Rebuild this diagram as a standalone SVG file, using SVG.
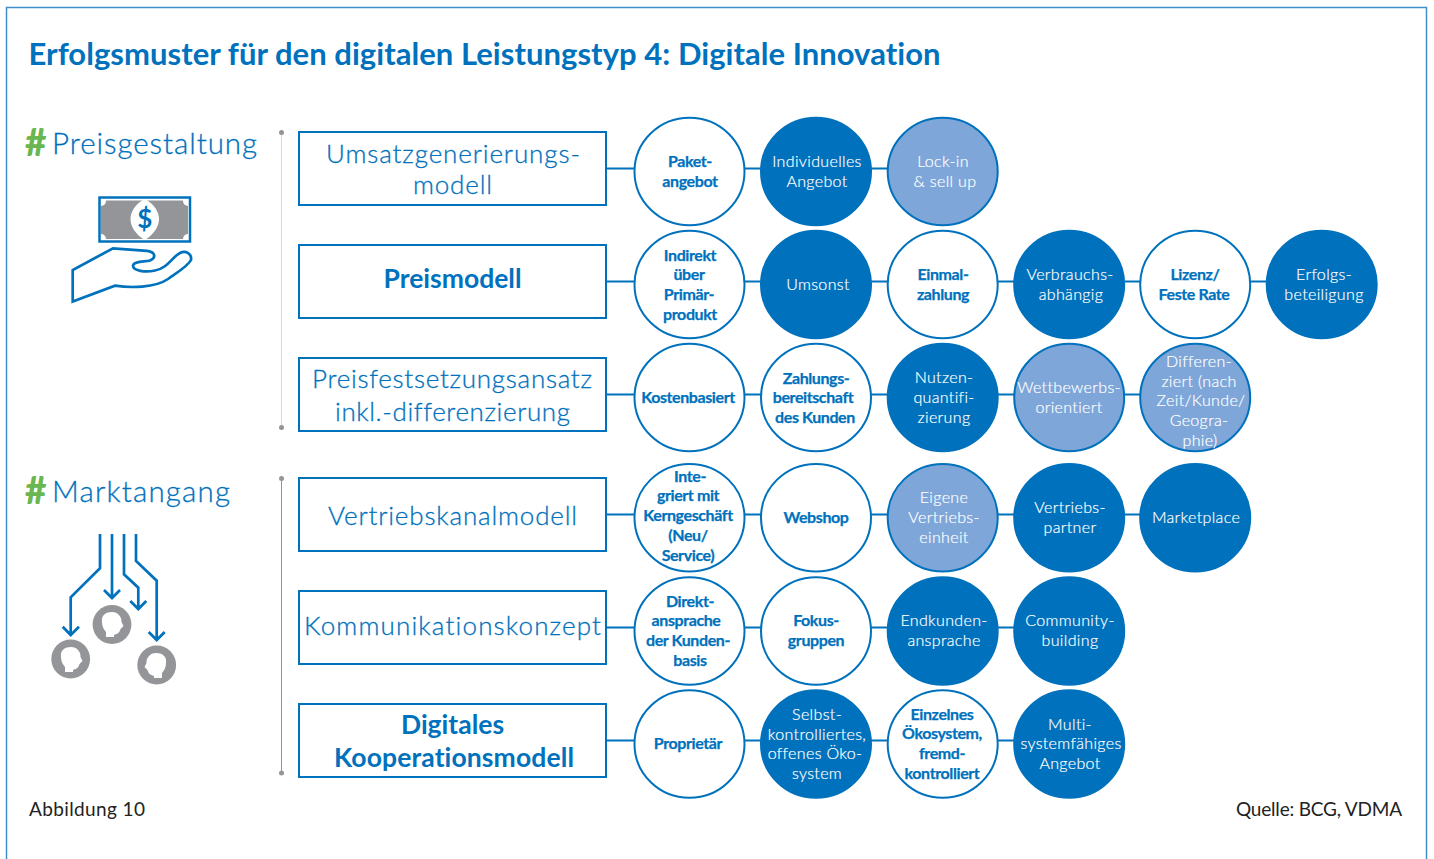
<svg xmlns="http://www.w3.org/2000/svg" width="1434" height="859" viewBox="0 0 1434 859">
<style>
text{font-family:"Lato","Liberation Sans",sans-serif;text-anchor:middle;font-variant-ligatures:none}
ellipse.c{stroke:#0071bc;stroke-width:2;rx:55px;ry:53.800px}
.w{fill:#fff}.d{fill:#0071bc}.l{fill:#7ea6d9}
.tb{fill:#0071bc;font-weight:700;font-size:16px;letter-spacing:-.4px;stroke:#0071bc;stroke-width:.25px}
.tw{fill:#fff;font-size:16px;letter-spacing:.35px;font-weight:300;stroke:#fff;stroke-width:.2px}
.r{fill:#fff;stroke:#0071bc;stroke-width:2}
.rt{fill:#0071bc;font-size:26px;font-weight:300;stroke:#0071bc;stroke-width:.3px}
.rb{fill:#0071bc;font-size:26.500px;font-weight:700}
.h{fill:#0071bc;font-size:29.500px;text-anchor:start;font-weight:300;stroke:#0071bc;stroke-width:.3px}
.hash{fill:#6ab651;font-size:37px;font-weight:900;text-anchor:start}
.ln{stroke:#0071bc;stroke-width:2;fill:none}
.ic{stroke:#0071bc;stroke-width:2.700;fill:none}
.g{fill:#939598}
.f{fill:#222;font-size:19px}
</style>
<rect x="0" y="0" width="1434" height="859" fill="#fff"/>
<path d="M6.500 859V7.500H1426.500V859" fill="none" stroke="#3f8fcd" stroke-width="1.500"/>
<text x="28.500" y="65" textLength="912" style="text-anchor:start;font-size:31px;font-weight:700;fill:#0071bc">Erfolgsmuster für den digitalen Leistungstyp 4: Digitale Innovation</text>

<g id="preisgestaltung">
<text class="hash" x="25" y="156">#</text><text class="h" x="52" y="154" textLength="205">Preisgestaltung</text>
<rect x="101" y="200.500" width="87" height="38.500" class="g"/>
<path d="M144.700 199C135 204 130.500 212 130.500 219C130.500 226 135 234 144.700 240C154.400 234 159 226 159 219C159 212 154.400 204 144.700 199Z" fill="#fff"/>
<g fill="#fff"><circle cx="101" cy="201" r="5"/><circle cx="188" cy="201" r="5"/><circle cx="101" cy="239" r="5"/><circle cx="188" cy="239" r="5"/></g>
<rect x="99.500" y="197.500" width="90.500" height="44" fill="none" stroke="#0071bc" stroke-width="2.500"/>
<text x="144.700" y="228" style="font-size:26px;font-weight:700;fill:#0071bc">$</text>
<path class="ic" d="M72.700 270V301.500L115 285.700C130 288 155 288 168 279C178 272 188 266 191 260C192 254 186 250 180 253C172 257 168 268 155 270.500C145 272.500 133 271 133 265.500C134 261 144 262 150 260.500C156 258 156 252 147 250.800L113 248.300Z"/>
</g>

<g id="marktangang">
<text class="hash" x="25" y="504">#</text><text class="h" x="52" y="502" textLength="178">Marktangang</text>
<g class="ic">
<path d="M100 534V568.300L70.700 597.300V635M62.700 626.700L70.700 635L79 626.700"/>
<path d="M112 534V598M104 590L112 598L120 590"/>
<path d="M124 534V574.300L138.300 587.700V609M130.300 601L138.300 609L146.300 601"/>
<path d="M136 534V561L156.700 580.700V640M148.700 632L156.700 640L164.700 632"/>
</g>
<circle cx="70.700" cy="659" r="19.400" class="g"/><circle cx="112" cy="624.500" r="19.400" class="g"/><circle cx="156.700" cy="665" r="19.400" class="g"/>
<g fill="#fff">
<path d="M61 657C60 650 65 647 71 647C77 647 81 652 80.500 657L82.500 661L79.500 664C78.500 668 76 669 73 670V672H65V667C62.500 664 61 661 61 657Z"/>
<path d="M102 622C101 615 106 612 112 612C118 612 122 617 121.500 622L123.500 626L120.500 629C119.500 633 117 634 114 635V637H106V632C103.500 629 102 626 102 622Z"/>
<path d="M166 663C167 656 162 653 156 653C150 653 146 658 146.500 663L144.500 667L147.500 670C148.500 674 151 675 154 676V678H162V673C164.500 670 166 667 166 663Z"/>
</g>
</g>

<g id="axes" fill="#939598">
<line x1="281.500" y1="133" x2="281.500" y2="427" stroke="#d9d9d9" stroke-width="1"/>
<circle cx="281.500" cy="132.500" r="2.500"/><circle cx="281.500" cy="427.500" r="2.500"/>
<line x1="281.500" y1="479" x2="281.500" y2="773" stroke="#939598" stroke-width="1"/>
<circle cx="281.500" cy="478.500" r="2.500"/><circle cx="281.500" cy="773" r="2.500"/>
</g>

<g id="connectors" class="ln">
<path d="M606 168.500H945"/>
<path d="M606 281.500H1325"/>
<path d="M606 394.500H1197"/>
<path d="M606 514.500H1197"/>
<path d="M606 627.500H1071"/>
<path d="M606 740.500H1071"/>
</g>

<g id="row1">
<g><rect class="r" x="299" y="132" width="307" height="73"/><text class="rt" x="453" y="163" textLength="254">Umsatzgenerierungs-</text><text class="rt" x="452.500" y="194" textLength="79">modell</text></g>
<g id="r1c1"><ellipse class="c w" cx="689.500" cy="171.500"/><text class="tb" x="690" y="167">Paket-</text><text class="tb" x="690" y="187">angebot</text></g>
<g id="r1c2"><ellipse class="c d" cx="816" cy="171.500"/><text class="tw" x="817" y="167">Individuelles</text><text class="tw" x="817" y="187">Angebot</text></g>
<g id="r1c3"><ellipse class="c l" cx="942.700" cy="171.500"/><text class="tw" x="943" y="167">Lock-in</text><text class="tw" x="945" y="187">&amp; sell up</text></g>
</g>

<g id="row2">
<g><rect class="r" x="299" y="245" width="307" height="73"/><text class="rb" x="452.500" y="288">Preismodell</text></g>
<g><ellipse class="c w" cx="689.500" cy="284.500"/><text class="tb" x="690" y="261">Indirekt</text><text class="tb" x="689" y="280">über</text><text class="tb" x="689" y="300">Primär-</text><text class="tb" x="690" y="320">produkt</text></g>
<g><ellipse class="c d" cx="816" cy="284.500"/><text class="tw" x="818" y="290">Umsonst</text></g>
<g><ellipse class="c w" cx="942.700" cy="284.500"/><text class="tb" x="943" y="280">Einmal-</text><text class="tb" x="943" y="300">zahlung</text></g>
<g><ellipse class="c d" cx="1069.200" cy="284.500"/><text class="tw" x="1070" y="280">Verbrauchs-</text><text class="tw" x="1071" y="300">abhängig</text></g>
<g><ellipse class="c w" cx="1195.200" cy="284.500"/><text class="tb" x="1195" y="280">Lizenz/</text><text class="tb" x="1194" y="300">Feste Rate</text></g>
<g><ellipse class="c d" cx="1321.700" cy="284.500"/><text class="tw" x="1324" y="280">Erfolgs-</text><text class="tw" x="1324" y="300">beteiligung</text></g>
</g>

<g id="row3">
<g><rect class="r" x="299" y="358" width="307" height="73"/><text class="rt" x="452" y="388" textLength="280">Preisfestsetzungsansatz</text><text class="rt" x="452.500" y="421" textLength="235">inkl.-differenzierung</text></g>
<g><ellipse class="c w" cx="689.500" cy="397.500"/><text class="tb" x="688" y="403">Kostenbasiert</text></g>
<g><ellipse class="c w" cx="816" cy="397.500"/><text class="tb" x="816" y="384">Zahlungs-</text><text class="tb" x="813" y="403">bereitschaft</text><text class="tb" x="815" y="423">des Kunden</text></g>
<g><ellipse class="c d" cx="942.700" cy="397.500"/><text class="tw" x="944" y="383">Nutzen-</text><text class="tw" x="944" y="403">quantifi-</text><text class="tw" x="944" y="423">zierung</text></g>
<g><ellipse class="c l" cx="1069.200" cy="397.500"/><text class="tw" x="1069" y="393">Wettbewerbs-</text><text class="tw" x="1069" y="413">orientiert</text></g>
<g><ellipse class="c l" cx="1195.200" cy="397.500"/><text class="tw" x="1199" y="367">Differen-</text><text class="tw" x="1199" y="387">ziert (nach</text><text class="tw" x="1201" y="406">Zeit/Kunde/</text><text class="tw" x="1199" y="426">Geogra-</text><text class="tw" x="1200" y="446">phie)</text></g>
</g>

<g id="row4">
<g><rect class="r" x="299" y="478" width="307" height="73"/><text class="rt" x="452.500" y="525" textLength="249">Vertriebskanalmodell</text></g>
<g><ellipse class="c w" cx="689.500" cy="517.700"/><text class="tb" x="690" y="482">Inte-</text><text class="tb" x="688" y="501">griert mit</text><text class="tb" x="688" y="521">Kerngeschäft</text><text class="tb" x="688" y="541">(Neu/</text><text class="tb" x="688" y="561">Service)</text></g>
<g><ellipse class="c w" cx="816" cy="517.700"/><text class="tb" x="816" y="523">Webshop</text></g>
<g><ellipse class="c l" cx="942.700" cy="517.700"/><text class="tw" x="944" y="503">Eigene</text><text class="tw" x="944" y="523">Vertriebs-</text><text class="tw" x="944" y="543">einheit</text></g>
<g><ellipse class="c d" cx="1069.200" cy="517.700"/><text class="tw" x="1070" y="513">Vertriebs-</text><text class="tw" x="1070" y="533">partner</text></g>
<g><ellipse class="c d" cx="1195.200" cy="517.700"/><text class="tw" x="1196" y="523">Marketplace</text></g>
</g>

<g id="row5">
<g><rect class="r" x="299" y="591" width="307" height="73"/><text class="rt" x="452.500" y="635" textLength="297">Kommunikationskonzept</text></g>
<g><ellipse class="c w" cx="689.500" cy="631"/><text class="tb" x="690" y="607">Direkt-</text><text class="tb" x="686" y="626">ansprache</text><text class="tb" x="688" y="646">der Kunden-</text><text class="tb" x="690" y="666">basis</text></g>
<g><ellipse class="c w" cx="816" cy="631"/><text class="tb" x="816" y="626">Fokus-</text><text class="tb" x="816" y="646">gruppen</text></g>
<g><ellipse class="c d" cx="942.700" cy="631"/><text class="tw" x="944" y="626">Endkunden-</text><text class="tw" x="944" y="646">ansprache</text></g>
<g><ellipse class="c d" cx="1069.200" cy="631"/><text class="tw" x="1070" y="626">Community-</text><text class="tw" x="1070" y="646">building</text></g>
</g>

<g id="row6">
<g><rect class="r" x="299" y="704" width="307" height="73"/><text class="rb" x="452.500" y="734">Digitales</text><text class="rb" x="454" y="767" textLength="240">Kooperationsmodell</text></g>
<g><ellipse class="c w" cx="689.500" cy="744"/><text class="tb" x="688" y="749">Proprietär</text></g>
<g><ellipse class="c d" cx="816" cy="744"/><text class="tw" x="817" y="720">Selbst-</text><text class="tw" x="817" y="740">kontrolliertes,</text><text class="tw" x="815" y="759">offenes Öko-</text><text class="tw" x="817" y="779">system</text></g>
<g><ellipse class="c w" cx="942.700" cy="744"/><text class="tb" x="942" y="720">Einzelnes</text><text class="tb" x="942" y="739">Ökosystem,</text><text class="tb" x="942" y="759">fremd-</text><text class="tb" x="942" y="779">kontrolliert</text></g>
<g><ellipse class="c d" cx="1069.200" cy="744"/><text class="tw" x="1070" y="730">Multi-</text><text class="tw" x="1071" y="749">systemfähiges</text><text class="tw" x="1070" y="769">Angebot</text></g>
</g>

<text class="f" x="29" y="816" textLength="116" style="text-anchor:start">Abbildung 10</text>
<text class="f" x="1402" y="816" textLength="166" style="text-anchor:end">Quelle: BCG, VDMA</text>
</svg>
